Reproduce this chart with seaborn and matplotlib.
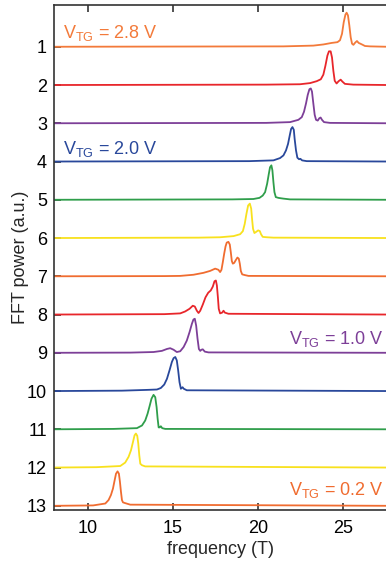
import numpy as np
import pandas as pd
import matplotlib
matplotlib.use("Agg")
import matplotlib.pyplot as plt
import seaborn as sns

# ---- data (frequency in T, peak height in units of trace spacing)
trace_labels = [str(i) for i in range(1, 14)]

f1 = [8, 21.5, 23.27, 23.86, 24.35, 24.69, 24.84, 24.96, 25.06, 25.16, 25.23, 25.31, 25.39, 25.47, 25.55, 25.63, 25.74, 25.84, 25.94, 26.04, 26.18, 26.31, 26.61, 27.6]
h1 = [0, 0.01, 0.03, 0.06, 0.10, 0.12, 0.17, 0.34, 0.64, 0.84, 0.89, 0.82, 0.56, 0.25, 0.08, 0.05, 0.11, 0.15, 0.10, 0.08, 0.05, 0.02, 0.01, 0]

f2 = [8, 20.5, 22.49, 23.08, 23.47, 23.71, 23.86, 23.98, 24.10, 24.19, 24.29, 24.37, 24.45, 24.53, 24.64, 24.76, 24.88, 24.98, 25.13, 25.62, 27.6]
h2 = [0, 0.01, 0.02, 0.05, 0.10, 0.15, 0.27, 0.50, 0.77, 0.88, 0.88, 0.72, 0.37, 0.11, 0.04, 0.10, 0.14, 0.09, 0.03, 0.01, 0]

f3 = [8, 20.5, 21.90, 22.39, 22.59, 22.72, 22.84, 22.94, 23.04, 23.12, 23.19, 23.27, 23.35, 23.43, 23.53, 23.62, 23.70, 23.78, 23.90, 24.25, 27.6]
h3 = [0, 0.01, 0.03, 0.09, 0.16, 0.30, 0.52, 0.74, 0.89, 0.91, 0.83, 0.52, 0.22, 0.09, 0.07, 0.13, 0.15, 0.09, 0.03, 0.01, 0]

f4 = [8, 19.5, 20.92, 21.31, 21.51, 21.66, 21.78, 21.88, 21.96, 22.04, 22.12, 22.17, 22.25, 22.33, 22.43, 22.51, 22.61, 22.88, 27.6]
h4 = [0, 0.01, 0.03, 0.09, 0.16, 0.29, 0.46, 0.68, 0.85, 0.90, 0.83, 0.59, 0.29, 0.10, 0.06, 0.07, 0.03, 0.01, 0]

f5 = [8, 18.5, 19.74, 20.10, 20.29, 20.43, 20.55, 20.65, 20.72, 20.80, 20.86, 20.92, 20.98, 21.06, 21.21, 21.35, 21.51, 21.90, 27.6]
h5 = [0, 0.01, 0.02, 0.05, 0.11, 0.20, 0.42, 0.68, 0.85, 0.90, 0.77, 0.46, 0.20, 0.07, 0.05, 0.04, 0.03, 0.01, 0]

f6 = [8, 16.5, 17.78, 18.57, 18.96, 19.12, 19.23, 19.33, 19.43, 19.53, 19.61, 19.67, 19.72, 19.80, 19.90, 20.02, 20.12, 20.19, 20.29, 20.53, 20.92, 27.6]
h6 = [0, 0.01, 0.02, 0.05, 0.10, 0.18, 0.37, 0.63, 0.85, 0.90, 0.77, 0.46, 0.24, 0.13, 0.16, 0.20, 0.18, 0.10, 0.03, 0.02, 0.01, 0]

f7 = [8, 14.5, 15.43, 16.21, 16.80, 17.19, 17.49, 17.68, 17.78, 17.86, 17.94, 18.02, 18.10, 18.17, 18.27, 18.35, 18.41, 18.47, 18.53, 18.61, 18.70, 18.80, 18.88, 18.94, 19.00, 19.08, 19.25, 19.45, 27.6]
h7 = [0, 0.005, 0.01, 0.04, 0.09, 0.14, 0.20, 0.17, 0.11, 0.17, 0.37, 0.59, 0.78, 0.88, 0.90, 0.83, 0.63, 0.40, 0.33, 0.35, 0.42, 0.49, 0.46, 0.33, 0.14, 0.05, 0.03, 0.01, 0]

f8 = [8, 14.5, 15.43, 15.72, 15.98, 16.17, 16.29, 16.41, 16.51, 16.61, 16.76, 16.92, 17.08, 17.23, 17.35, 17.45, 17.53, 17.59, 17.65, 17.70, 17.78, 17.90, 17.98, 18.06, 18.27, 27.6]
h8 = [0, 0.01, 0.03, 0.08, 0.15, 0.23, 0.21, 0.10, 0.04, 0.10, 0.26, 0.45, 0.57, 0.63, 0.73, 0.87, 0.89, 0.76, 0.45, 0.15, 0.03, 0.05, 0.10, 0.05, 0.02, 0]

f9 = [8, 12.5, 13.86, 14.35, 14.65, 14.84, 15.04, 15.23, 15.43, 15.63, 15.82, 15.98, 16.12, 16.21, 16.29, 16.37, 16.45, 16.53, 16.61, 16.68, 16.76, 16.88, 17.10, 27.6]
h9 = [0, 0.005, 0.02, 0.05, 0.10, 0.12, 0.08, 0.02, 0.04, 0.15, 0.32, 0.54, 0.76, 0.87, 0.89, 0.71, 0.37, 0.10, 0.05, 0.08, 0.09, 0.03, 0.01, 0]

f10 = [8, 12.0, 13.47, 14.06, 14.29, 14.49, 14.65, 14.80, 14.94, 15.04, 15.14, 15.23, 15.31, 15.39, 15.47, 15.57, 15.64, 15.82, 27.6]
h10 = [0, 0.01, 0.03, 0.04, 0.08, 0.17, 0.32, 0.54, 0.76, 0.86, 0.89, 0.80, 0.54, 0.23, 0.06, 0.10, 0.06, 0.02, 0]

f11 = [8, 11.5, 12.88, 13.18, 13.37, 13.51, 13.63, 13.74, 13.86, 13.96, 14.04, 14.10, 14.16, 14.23, 14.29, 14.37, 14.55, 27.6]
h11 = [0, 0.01, 0.03, 0.10, 0.23, 0.41, 0.61, 0.80, 0.90, 0.84, 0.58, 0.28, 0.05, 0.05, 0.08, 0.03, 0.01, 0]

f12 = [8, 10.5, 11.90, 12.19, 12.39, 12.53, 12.65, 12.74, 12.82, 12.90, 12.96, 13.02, 13.08, 13.18, 13.37, 27.6]
h12 = [0, 0.01, 0.04, 0.13, 0.28, 0.45, 0.67, 0.84, 0.89, 0.83, 0.63, 0.32, 0.10, 0.06, 0.03, 0]

f13 = [8, 10.3, 11.02, 11.21, 11.35, 11.47, 11.57, 11.65, 11.74, 11.82, 11.88, 11.94, 12.00, 12.06, 12.19, 12.49, 27.6]
h13 = [0, 0.01, 0.06, 0.15, 0.28, 0.45, 0.67, 0.84, 0.90, 0.84, 0.63, 0.37, 0.15, 0.09, 0.07, 0.03, 0]

freqs = [f1, f2, f3, f4, f5, f6, f7, f8, f9, f10, f11, f12, f13]
heights = [h1, h2, h3, h4, h5, h6, h7, h8, h9, h10, h11, h12, h13]

colors = ["#F37A3A", "#E8262B", "#7D3F98", "#29489B", "#2F9E4B", "#F8E11E",
          "#F06C30", "#E8262B", "#7D3F98", "#29489B", "#2F9E4B", "#F8E11E", "#F06C30"]

annot_texts = ["2.8 V", "2.0 V", "1.0 V", "0.2 V"]
annot_colors = ["#F37A3A", "#29489B", "#7D3F98", "#F06C30"]

x_ticks = [10, 15, 20, 25]

# ---- build long-form table
rows = []
for i, (fs, hs) in enumerate(zip(freqs, heights)):
    base = i + 1
    for f, h in zip(fs, hs):
        rows.append({"freq": f, "y": base - h, "trace": trace_labels[i]})
df = pd.DataFrame(rows)

sns.set_style("ticks")
plt.rcParams["font.family"] = ["Liberation Sans", "DejaVu Sans"]
plt.rcParams["mathtext.fontset"] = "custom"
plt.rcParams["mathtext.rm"] = "Liberation Sans"

FS = 13

fig = plt.figure(figsize=(3.86, 5.62), dpi=100)
ax = fig.add_axes([0.14, 0.0925, 0.86, 0.8985])

sns.lineplot(data=df, x="freq", y="y", hue="trace", palette=colors,
             hue_order=trace_labels, estimator=None, sort=False,
             legend=False, linewidth=1.3, ax=ax)

ax.set_xlim(8, 27.55)
ax.set_ylim(13.11, -0.09)
ax.set_xticks(x_ticks)
ax.set_xticklabels([str(t) for t in x_ticks])
ax.set_yticks(range(1, 14))
ax.set_yticklabels(trace_labels)

for s in ["left", "bottom", "top"]:
    ax.spines[s].set_linewidth(1.2)
    ax.spines[s].set_color("#333333")
ax.spines["right"].set_visible(False)

ax.tick_params(axis="x", direction="in", length=5, width=1.2, top=True,
               labelsize=FS, pad=7, colors="#333333", labelcolor="black")
ax.tick_params(axis="y", direction="in", length=5, width=1.2,
               labelsize=FS, pad=5, colors="#333333", labelcolor="black")

ax.set_xlabel("frequency (T)", fontsize=FS, labelpad=3)
ax.set_ylabel("FFT power (a.u.)", fontsize=FS, labelpad=-1.5)

vt = r"V$_{\mathregular{TG}}$ = "
ax.text(8.5, 0.77, vt + annot_texts[0], color=annot_colors[0],
        fontsize=FS, ha="left", va="baseline")
ax.text(8.5, 3.8, vt + annot_texts[1], color=annot_colors[1],
        fontsize=FS, ha="left", va="baseline")
ax.text(27.4, 8.77, vt + annot_texts[2], color=annot_colors[2],
        fontsize=FS, ha="right", va="baseline")
ax.text(27.4, 12.72, vt + annot_texts[3], color=annot_colors[3],
        fontsize=FS, ha="right", va="baseline")

fig.savefig("out.png", dpi=100)
